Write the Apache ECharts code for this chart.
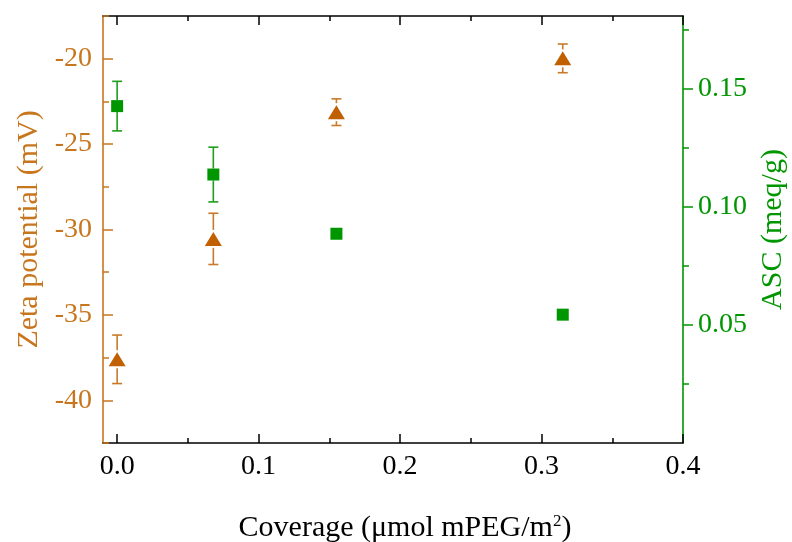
<!DOCTYPE html>
<html>
<head>
<meta charset="utf-8">
<script src="https://cdn.jsdelivr.net/npm/echarts@6/dist/echarts.min.js"></script>
<style>html,body{margin:0;padding:0;background:#fff;}#c{width:792px;height:542px;}</style>
</head>
<body>
<div id="c"></div>
<script>
// Data
var coverage = [0, 0.068, 0.155, 0.315];
var zeta = [-37.6, -30.55, -23.13, -19.98];
var zetaErr = [1.42, 1.5, 0.78, 0.84];
var asc = [0.1428, 0.1138, 0.0887, 0.0544];
var ascErr = [0.0105, 0.0116, 0, 0];

var xMajor = [0, 0.1, 0.2, 0.3, 0.4];
var xMinor = [0.05, 0.15, 0.25, 0.35];
var zetaMajor = [-40, -35, -30, -25, -20];
var zetaMinor = [-42.5, -37.5, -32.5, -27.5, -22.5, -17.5];
var ascMajor = [0.05, 0.10, 0.15];
var ascMinor = [0.025, 0.075, 0.125, 0.175];

var ORANGE_AX = '#C8761E';
var ORANGE_MK = '#C06000';
var GREEN = '#009600';
var FONT = 'Liberation Serif';
var LBL = 28, TTL = 30;

function tuples(xs, ys, es) {
  return xs.map(function (x, i) { return [x, ys[i], es[i]]; });
}

function errRender(color, half) {
  return function (params, api) {
    var x = api.value(0), y = api.value(1), e = api.value(2);
    if (!e) return null;
    var c = api.coord([x, y]);
    var top = api.coord([x, y + e]);
    var bot = api.coord([x, y - e]);
    var w = 5;
    var st = { stroke: color, lineWidth: 1.6 };
    return {
      type: 'group',
      children: [
        { type: 'line', shape: { x1: c[0], y1: top[1], x2: c[0], y2: c[1] - half }, style: st },
        { type: 'line', shape: { x1: c[0], y1: c[1] + half, x2: c[0], y2: bot[1] }, style: st },
        { type: 'line', shape: { x1: c[0] - w, y1: top[1], x2: c[0] + w, y2: top[1] }, style: st },
        { type: 'line', shape: { x1: c[0] - w, y1: bot[1], x2: c[0] + w, y2: bot[1] }, style: st }
      ]
    };
  };
}

var chart = echarts.init(document.getElementById('c'));
var grid = { left: 103, right: 109, top: 16, bottom: 99, containLabel: false, outerBoundsMode: 'none' };
var fmt1 = function (v) { return v.toFixed(1); };
function line(color, show) { return { show: show, onZero: false, lineStyle: { color: color, width: 1.6 } }; }

chart.setOption({
  animation: false,
  backgroundColor: '#fff',
  grid: grid,
  xAxis: [
    { type: 'value', min: -0.01, max: 0.4, position: 'bottom',
      axisLine: line('#000', true),
      axisTick: { show: true, inside: true, length: 9, customValues: xMajor, lineStyle: { color: '#000', width: 1.5 } },
      axisLabel: { show: true, customValues: xMajor, formatter: fmt1, margin: 10,
        fontFamily: FONT, fontSize: LBL, color: '#000' },
      splitLine: { show: false },
      name: 'Coverage (μmol mPEG/m{sup|2})', nameLocation: 'middle', nameGap: 70,
      nameTextStyle: { fontFamily: FONT, fontSize: TTL, color: '#000', padding: [0, 0, 0, 24],
        rich: { sup: { fontFamily: FONT, fontSize: 17, color: '#000', verticalAlign: 'top', padding: [0, 0, 14, 0] } } } },
    { type: 'value', min: -0.01, max: 0.4, position: 'bottom',
      axisLine: line('#000', false),
      axisTick: { show: true, inside: true, length: 5, customValues: xMinor, lineStyle: { color: '#000', width: 1.5 } },
      axisLabel: { show: false }, splitLine: { show: false } },
    { type: 'value', min: -0.01, max: 0.4, position: 'top',
      axisLine: line('#000', true),
      axisTick: { show: true, inside: true, length: 9, customValues: xMajor, lineStyle: { color: '#000', width: 1.5 } },
      axisLabel: { show: false }, splitLine: { show: false } },
    { type: 'value', min: -0.01, max: 0.4, position: 'top',
      axisLine: line('#000', false),
      axisTick: { show: true, inside: true, length: 5, customValues: xMinor, lineStyle: { color: '#000', width: 1.5 } },
      axisLabel: { show: false }, splitLine: { show: false } }
  ],
  yAxis: [
    { type: 'value', min: -42.5, max: -17.5, position: 'left',
      axisLine: line(ORANGE_AX, true),
      axisTick: { show: true, inside: true, length: 10, customValues: zetaMajor, lineStyle: { color: ORANGE_AX, width: 1.5 } },
      axisLabel: { show: true, customValues: zetaMajor, margin: 11,
        fontFamily: FONT, fontSize: LBL, color: ORANGE_AX },
      splitLine: { show: false },
      name: 'Zeta potential (mV)', nameLocation: 'middle', nameGap: 58, nameRotate: 90,
      nameTextStyle: { fontFamily: FONT, fontSize: TTL, color: ORANGE_AX } },
    { type: 'value', min: -42.5, max: -17.5, position: 'left',
      axisLine: line(ORANGE_AX, false),
      axisTick: { show: true, inside: true, length: 6, customValues: zetaMinor, lineStyle: { color: ORANGE_AX, width: 1.5 } },
      axisLabel: { show: false }, splitLine: { show: false } },
    { type: 'value', min: 0, max: 0.181, position: 'right',
      axisLine: line(GREEN, true),
      axisTick: { show: true, inside: false, length: 10, customValues: ascMajor, lineStyle: { color: GREEN, width: 1.5 } },
      axisLabel: { show: true, customValues: ascMajor, formatter: function (v) { return v.toFixed(2); }, margin: 15,
        fontFamily: FONT, fontSize: LBL, color: GREEN },
      splitLine: { show: false },
      name: 'ASC (meq/g)', nameLocation: 'middle', nameGap: 74, nameRotate: 90,
      nameTextStyle: { fontFamily: FONT, fontSize: TTL, color: GREEN } },
    { type: 'value', min: 0, max: 0.181, position: 'right',
      axisLine: line(GREEN, false),
      axisTick: { show: true, inside: false, length: 6, customValues: ascMinor, lineStyle: { color: GREEN, width: 1.5 } },
      axisLabel: { show: false }, splitLine: { show: false } }
  ],
  series: [
    { type: 'custom', xAxisIndex: 0, yAxisIndex: 2, renderItem: errRender('#1E9E1E', 6),
      data: tuples(coverage, asc, ascErr), z: 2, silent: true },
    { type: 'custom', xAxisIndex: 0, yAxisIndex: 0, renderItem: errRender('#C87A2A', 9),
      data: tuples(coverage, zeta, zetaErr), z: 2, silent: true },
    { type: 'scatter', xAxisIndex: 0, yAxisIndex: 2, symbol: 'rect', symbolSize: 12,
      itemStyle: { color: GREEN, opacity: 1 }, z: 3,
      data: coverage.map(function (x, i) { return [x, asc[i]]; }) },
    { type: 'scatter', xAxisIndex: 0, yAxisIndex: 0, symbol: 'triangle', symbolSize: [17, 14],
      itemStyle: { color: ORANGE_MK, opacity: 1 }, z: 3,
      data: coverage.map(function (x, i) { return [x, zeta[i]]; }) }
  ]
});
</script>
</body>
</html>
